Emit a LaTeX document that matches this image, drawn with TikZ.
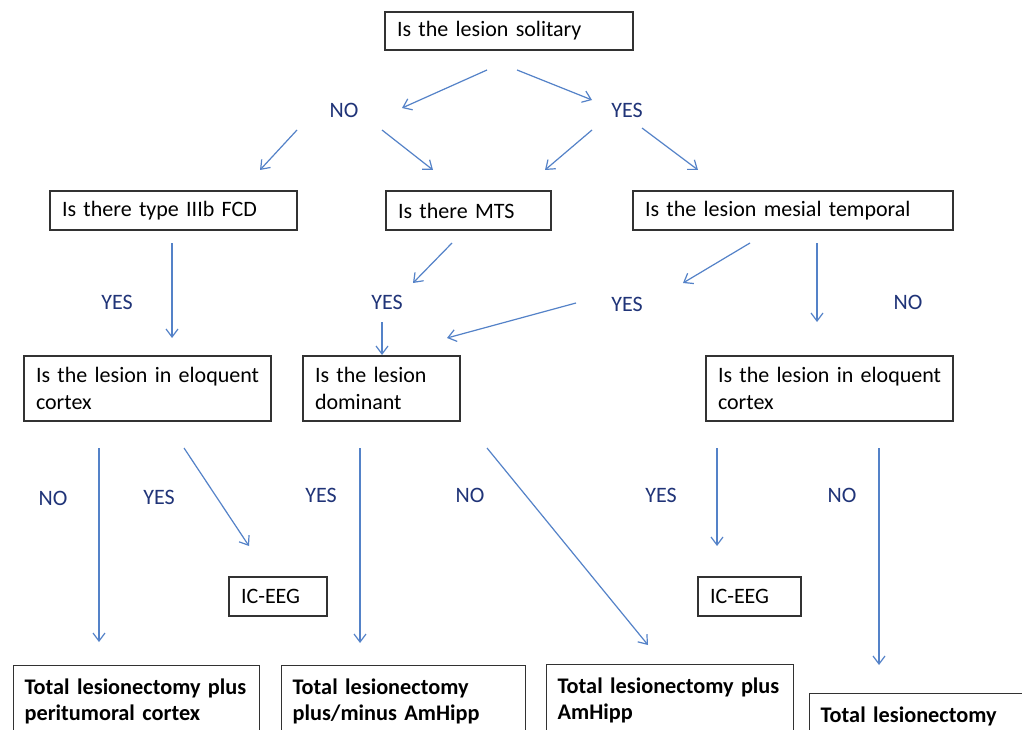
\documentclass[tikz,border=0pt]{standalone}
\usepackage{fontspec}
\setmainfont{Carlito}
\usetikzlibrary{arrows.meta}
\definecolor{arr}{RGB}{84,130,200}
\definecolor{lab}{RGB}{32,52,120}
\definecolor{frame}{RGB}{50,50,50}
\tikzset{
  qbox/.style={draw=frame, line width=1.2pt, inner xsep=12pt, inner ysep=0pt, align=left, font=\fontsize{22}{27}\selectfont},
  rbox/.style={draw=frame, line width=1.2pt, inner xsep=11pt, inner ysep=13pt, align=left, anchor=north west, font=\fontsize{22.3}{26}\selectfont\bfseries},
  lbl/.style={text=lab, font=\fontsize{22}{24}\selectfont},
  con/.style={draw=arr, line width=1.2pt, -{Straight Barb[length=8pt,width=12pt,line width=1.2pt]}}
}
\begin{document}
\begin{tikzpicture}[x=1pt,y=-1pt]
\useasboundingbox (0,0) rectangle (1022,730);
\clip (0,0) rectangle (1022,730);
\fill[white] (0,0) rectangle (1022,730);
% boxes
\node[qbox, text width=224, minimum height=38] (top) at (509,31) {Is the lesion solitary};
\node[qbox, text width=223, minimum height=39] (fcd) at (173.5,210.5) {Is there type IIIb FCD};
\node[qbox, text width=141, minimum height=39] (mts) at (468.5,210.5) {Is there MTS};
\node[qbox, text width=296, minimum height=39] (mes) at (793,210.5) {Is the lesion mesial temporal};
\node[qbox, text width=223, minimum height=65] (elqL) at (147.5,388.5) {\mbox{Is the lesion in eloquent}\\cortex};
\node[qbox, text width=133, minimum height=65] (dom) at (381.5,388.5) {Is the lesion\\dominant};
\node[qbox, text width=223, minimum height=65] (elqR) at (829.5,388.5) {\mbox{Is the lesion in eloquent}\\cortex};
\node[qbox, text width=74, minimum height=39] (iceL) at (278,596.5) {IC-EEG};
\node[qbox, text width=79, minimum height=39] (iceR) at (749.5,596.5) {IC-EEG};
\node[rbox, text width=224] (r1) at (13,665) {\mbox{Total lesionectomy plus}\\peritumoral cortex};
\node[rbox, text width=222] (r2) at (281,665) {\mbox{Total lesionectomy}\\\mbox{plus/minus AmHipp}};
\node[rbox, text width=225] (r3) at (546,664) {\mbox{Total lesionectomy plus}\\AmHipp};
\node[rbox, text width=230] (r4) at (809,693) {Total lesionectomy};
% labels
\node[lbl] (no1) at (344,110) {NO};
\node[lbl] (yes1) at (627,110) {YES};
\node[lbl] (yes2) at (117,302) {YES};
\node[lbl] (yes3) at (387,302) {YES};
\node[lbl] (yes4) at (627,304) {YES};
\node[lbl] (no2) at (908,302) {NO};
\node[lbl] (no3) at (53,498) {NO};
\node[lbl] (yes5) at (159,497) {YES};
\node[lbl] (yes6) at (321,495) {YES};
\node[lbl] (no4) at (470,495) {NO};
\node[lbl] (yes7) at (661,495) {YES};
\node[lbl] (no5) at (842,495) {NO};
% connector end points
\coordinate (a1s) at (487,70);  \coordinate (a1e) at (402,108);
\coordinate (a2s) at (517,70);  \coordinate (a2e) at (592,100);
\coordinate (a3s) at (297,130); \coordinate (a3e) at (260,170);
\coordinate (a4s) at (382,130); \coordinate (a4e) at (433,170);
\coordinate (a5s) at (592,130); \coordinate (a5e) at (545,170);
\coordinate (a6s) at (642,128); \coordinate (a6e) at (698,170);
\coordinate (a7s) at (172,243); \coordinate (a7e) at (172,338);
\coordinate (a8s) at (452,243); \coordinate (a8e) at (413,283);
\coordinate (a9s) at (382,322); \coordinate (a9e) at (382,355);
\coordinate (a10s) at (750,243); \coordinate (a10e) at (683,283);
\coordinate (a11s) at (576,303); \coordinate (a11e) at (447,338);
\coordinate (a12s) at (817,243); \coordinate (a12e) at (817,322);
\coordinate (a13s) at (99,448); \coordinate (a13e) at (99,642);
\coordinate (a14s) at (184,448); \coordinate (a14e) at (249,546);
\coordinate (a15s) at (360,448); \coordinate (a15e) at (360,643);
\coordinate (a16s) at (487,448); \coordinate (a16e) at (648,645);
\coordinate (a17s) at (717,448); \coordinate (a17e) at (717,546);
\coordinate (a18s) at (879,448); \coordinate (a18e) at (879,665);
\foreach \i in {1,...,18} { \draw[con] (a\i s) -- (a\i e); }
\end{tikzpicture}
\end{document}
